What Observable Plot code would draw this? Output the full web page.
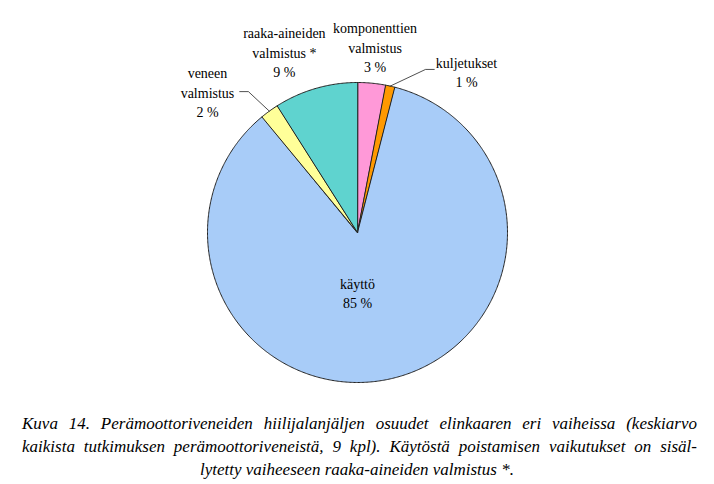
<!DOCTYPE html>
<html>
<head>
<meta charset="utf-8">
<script src="https://cdn.jsdelivr.net/npm/d3@7"></script>
<script src="https://cdn.jsdelivr.net/npm/@observablehq/plot@0.6"></script>
<style>
  body { margin: 0; background: #fff; width: 714px; }
  #chart svg { display: block; }
  .cap { font-family: 'Liberation Serif'; font-style: italic; font-size: 17px; line-height: 23px; color: #000; padding-top: 12px; }
  .cap div { width: 675px; margin-left: 22px; }
  .cap .j { text-align: justify; text-align-last: justify; }
  .cap .c { text-align: center; width: 714px; margin-left: 0; }
</style>
</head>
<body>
<div id="chart"></div>
<div class="cap">
  <div class="j">Kuva 14. Perämoottoriveneiden hiilijalanjäljen osuudet elinkaaren eri vaiheissa (keskiarvo</div>
  <div class="j">kaikista tutkimuksen perämoottoriveneistä, 9 kpl). Käytöstä poistamisen vaikutukset on sisäl-</div>
  <div class="c">lytetty vaiheeseen raaka-aineiden valmistus *.</div>
</div>
<script>
// ---- data ----
const categories = ["komponenttien valmistus", "kuljetukset", "käyttö", "veneen valmistus", "raaka-aineiden valmistus *"];
const labelLines = [["komponenttien", "valmistus"], ["kuljetukset"], ["käyttö"], ["veneen", "valmistus"], ["raaka-aineiden", "valmistus *"]];
const shares = [3, 1, 85, 2, 9];
const colors = ["#ff99d8", "#ff9900", "#a8ccf8", "#ffff99", "#5fd3cf"];

// ---- layout (label anchors in polar form: degrees clockwise from top, radius in pie radii) ----
const labelAngle = [null, 34.1, 180, 313.2, 338];
const labelRadius = [1.245, 1.296, 0.4, 1.372, 1.301];
const hasLeader = [false, true, false, true, false];

const total = d3.sum(shares);
const cum = d3.cumsum(shares);
const rad = (deg) => deg * Math.PI / 180;

const wedges = [];
const labels = [];
const leaders = [];
categories.forEach((name, i) => {
  const a0 = (cum[i] - shares[i]) / total * 360;
  const a1 = cum[i] / total * 360;
  const mid = (a0 + a1) / 2;
  wedges.push({name, x: 0, y: 0});
  const n = Math.max(2, Math.ceil((a1 - a0) * 2));
  for (let k = 0; k <= n; k++) {
    const a = rad(a0 + (a1 - a0) * k / n);
    wedges.push({name, x: Math.sin(a), y: Math.cos(a)});
  }
  const la = rad(labelAngle[i] == null ? mid : labelAngle[i]);
  const lx = labelRadius[i] * Math.sin(la), ly = labelRadius[i] * Math.cos(la);
  labels.push({name, x: lx, y: ly, text: [...labelLines[i], `${shares[i]} %`].join("\n")});
  if (hasLeader[i]) {
    const side = lx > 0 ? -1 : 1;
    const endX = lx + side * 0.215;
    const elbowX = endX + side * 0.058;
    const yy = ly + (lx > 0 ? 0.014 : 0);
    leaders.push({name, x: Math.sin(rad(mid)), y: Math.cos(rad(mid))});
    leaders.push({name, x: elbowX, y: yy});
    leaders.push({name, x: endX, y: yy});
  }
});

const chart = Plot.plot({
  width: 714,
  height: 400,
  marginLeft: 207,
  marginRight: 207,
  marginTop: 82,
  marginBottom: 18,
  x: {domain: [-1, 1], axis: null},
  y: {domain: [-1, 1], axis: null},
  color: {domain: categories, range: colors},
  style: {background: "white"},
  marks: [
    Plot.line(wedges, {x: "x", y: "y", z: "name", fill: "name", stroke: "#222", strokeWidth: 1, curve: "linear-closed"}),
    Plot.line(leaders, {x: "x", y: "y", z: "name", stroke: "#222", strokeWidth: 0.8}),
    Plot.text(labels, {x: "x", y: "y", text: "text", fontSize: 14, lineHeight: 1.38, fontFamily: "Liberation Serif", fill: "black"})
  ]
});
document.getElementById("chart").appendChild(chart);
</script>
</body>
</html>
